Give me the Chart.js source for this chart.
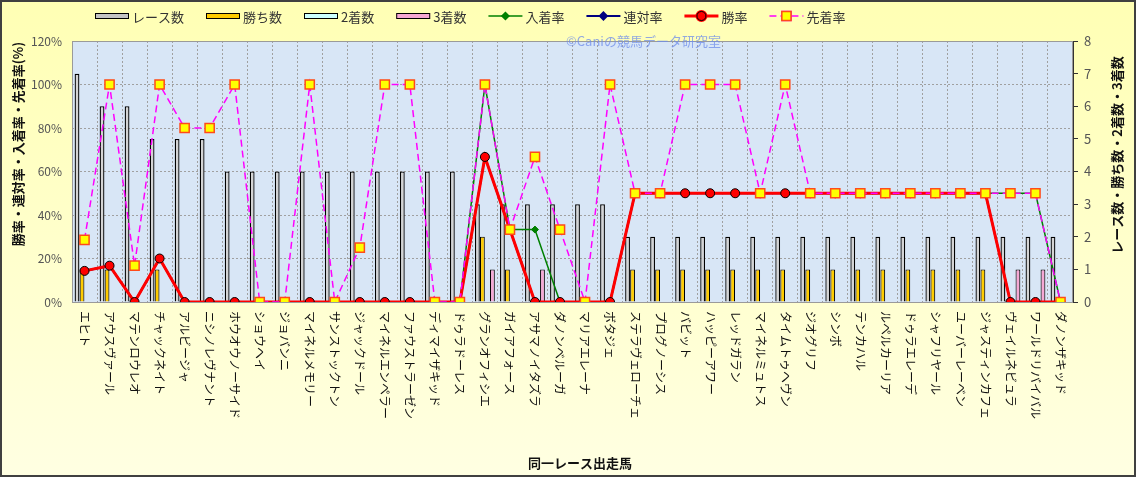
<!DOCTYPE html>
<html lang="ja">
<head>
    <meta charset="UTF-8">
    <title>同一レース出走馬</title>
    <style>
        html, body { margin: 0; padding: 0; background: #fff; }
        #wrap { width: 1136px; height: 477px; }
    </style>
</head>
<body>
    <div id="wrap"><canvas id="myChart" width="1136" height="477"></canvas></div>

    <script src="https://cdn.jsdelivr.net/npm/chart.js"></script>
    <script>
        // 出走馬
        const horses = ['エヒト', 'アウスヴァール', 'マテンロウレオ', 'チャックネイト', 'アルビージャ',
            'ニシノレヴナント', 'ホウオウノーサイド', 'ショウヘイ', 'ジョバンニ', 'マイネルメモリー',
            'サンストックトン', 'ジャックドール', 'マイネルエンペラー', 'ファウストラーゼン', 'ディマイザキッド',
            'ドゥラドーレス', 'グランオフィシエ', 'ガイアフォース', 'アサマノイタズラ', 'ダノンベルーガ',
            'マリアエレーナ', 'ボタジェ', 'ステラヴェローチェ', 'プログノーシス', 'バビット',
            'ハッピーアワー', 'レッドガラン', 'マイネルミュトス', 'タイムトゥヘヴン', 'ジオグリフ',
            'シンボ', 'テンカハル', 'ルペルカーリア', 'ドゥラエレーデ', 'シャフリヤール',
            'ユーバーレーベン', 'ジャスティンカフェ', 'ヴェイルネビュラ', 'ワールドリバイバル', 'ダノンザキッド'];

        // 回数 (右軸)
        const races   = [7, 6, 6, 5, 5, 5, 4, 4, 4, 4, 4, 4, 4, 4, 4, 4, 3, 3, 3, 3, 3, 3,
                         2, 2, 2, 2, 2, 2, 2, 2, 2, 2, 2, 2, 2, 2, 2, 2, 2, 2];
        const wins    = [1, 1, 0, 1, 0, 0, 0, 0, 0, 0, 0, 0, 0, 0, 0, 0, 2, 1, 0, 0, 0, 0,
                         1, 1, 1, 1, 1, 1, 1, 1, 1, 1, 1, 1, 1, 1, 1, 0, 0, 0];
        const seconds = [0, 0, 0, 0, 0, 0, 0, 0, 0, 0, 0, 0, 0, 0, 0, 0, 0, 0, 0, 0, 0, 0,
                         0, 0, 0, 0, 0, 0, 0, 0, 0, 0, 0, 0, 0, 0, 0, 0, 0, 0];
        const thirds  = [0, 0, 0, 0, 0, 0, 0, 0, 0, 0, 0, 0, 0, 0, 0, 0, 1, 0, 1, 0, 0, 0,
                         0, 0, 0, 0, 0, 0, 0, 0, 0, 0, 0, 0, 0, 0, 0, 1, 1, 0];

        // 率 (%・左軸)
        const placeRate    = [14.3, 16.7, 0, 20, 0, 0, 0, 0, 0, 0, 0, 0, 0, 0, 0, 0, 100, 33.3, 33.3, 0, 0, 0,
                              50, 50, 50, 50, 50, 50, 50, 50, 50, 50, 50, 50, 50, 50, 50, 50, 50, 0];
        const quinellaRate = [14.3, 16.7, 0, 20, 0, 0, 0, 0, 0, 0, 0, 0, 0, 0, 0, 0, 66.7, 33.3, 0, 0, 0, 0,
                              50, 50, 50, 50, 50, 50, 50, 50, 50, 50, 50, 50, 50, 50, 50, 0, 0, 0];
        const winRate      = [14.3, 16.7, 0, 20, 0, 0, 0, 0, 0, 0, 0, 0, 0, 0, 0, 0, 66.7, 33.3, 0, 0, 0, 0,
                              50, 50, 50, 50, 50, 50, 50, 50, 50, 50, 50, 50, 50, 50, 50, 0, 0, 0];
        const aheadRate    = [28.6, 100, 16.7, 100, 80, 80, 100, 0, 0, 100, 0, 25, 100, 100, 0, 0, 100, 33.3, 66.7, 33.3, 0, 100,
                              50, 50, 100, 100, 100, 50, 100, 50, 50, 50, 50, 50, 50, 50, 50, 50, 50, 0];

        const pctTicks = [0, 20, 40, 60, 80, 100, 120];
        const cntTicks = [0, 1, 2, 3, 4, 5, 6, 7, 8];

        const FONT = '"Noto Sans CJK JP", "Noto Sans", sans-serif';
        Chart.defaults.font.family = FONT;

        // 背景・凡例・軸タイトル・横軸ラベルを描くプラグイン
        const decor = {
            id: 'decor',
            beforeDraw(chart) {
                const c = chart.ctx, a = chart.chartArea;
                const g = c.createLinearGradient(0, 0, 0, chart.height);
                g.addColorStop(0, '#ffffb4');
                g.addColorStop(1, '#ffffe2');
                c.save();
                c.fillStyle = g;
                c.fillRect(0, 0, chart.width, chart.height);
                c.fillStyle = '#d8e6f6';
                c.fillRect(a.left, a.top, a.right - a.left, a.bottom - a.top);
                c.restore();
            },
            afterDatasetsDraw(chart) {
                const c = chart.ctx, a = chart.chartArea;
                c.save();
                c.strokeStyle = '#9a9a9a';
                c.lineWidth = 1;
                c.strokeRect(a.left + 0.5, a.top + 0.5, a.right - a.left - 1, a.bottom - a.top);
                c.restore();
            },
            afterDraw(chart) {
                const c = chart.ctx, a = chart.chartArea;
                const xs = chart.scales.x;
                c.save();

                // 横軸ラベル (縦書き風に回転)
                c.fillStyle = '#111';
                c.font = '12px ' + FONT;
                c.textAlign = 'left';
                c.textBaseline = 'middle';
                horses.forEach((h, i) => {
                    c.save();
                    c.translate(xs.getPixelForValue(i), a.bottom + 9);
                    c.rotate(Math.PI / 2);
                    c.fillText(h, 0, 0);
                    c.restore();
                });

                // 軸タイトル
                c.font = 'bold 13px ' + FONT;
                c.textAlign = 'center';
                c.fillText('同一レース出走馬', 580, 463);
                c.save();
                c.translate(18, 144);
                c.rotate(-Math.PI / 2);
                c.fillText('勝率・連対率・入着率・先着率(%)', 0, 0);
                c.restore();
                c.save();
                c.translate(1117, 155);
                c.rotate(-Math.PI / 2);
                c.fillText('レース数・勝ち数・2着数・3着数', 0, 0);
                c.restore();

                // 透かし文字
                c.font = '13px ' + FONT;
                c.fillStyle = 'rgba(110,140,235,0.75)';
                c.textAlign = 'left';
                c.fillText('©Caniの競馬データ研究室', 566, 41);

                // 凡例 (データセットの並び順)
                c.font = '13px ' + FONT;
                c.textBaseline = 'middle';
                let x = 95;
                const y = 16;
                chart.data.datasets.forEach(ds => {
                    if (ds.type === 'bar') {
                        c.fillStyle = ds.legendFill || ds.backgroundColor;
                        c.strokeStyle = '#000';
                        c.lineWidth = 1;
                        c.fillRect(x, y - 3, 34, 6);
                        c.strokeRect(x + 0.5, y - 2.5, 33, 5);
                    } else {
                        c.strokeStyle = ds.borderColor;
                        c.lineWidth = ds.borderWidth;
                        c.setLineDash(ds.borderDash || []);
                        c.beginPath();
                        c.moveTo(x, y);
                        c.lineTo(x + 34, y);
                        c.stroke();
                        c.setLineDash([]);
                        Chart.helpers.drawPoint(c, {
                            pointStyle: ds.pointStyle,
                            radius: ds.pointRadius,
                            borderWidth: ds.pointBorderWidth
                        }, x + 17, y);
                        c.fillStyle = ds.pointBackgroundColor;
                        c.strokeStyle = ds.pointBorderColor;
                        c.lineWidth = ds.pointBorderWidth;
                        c.fill();
                        c.stroke();
                    }
                    c.fillStyle = '#333';
                    c.fillText(ds.label, x + 37, y + 1);
                    x += 37 + c.measureText(ds.label).width + 22;
                });
                c.restore();

                // 外枠
                c.save();
                c.strokeStyle = '#404040';
                c.lineWidth = 2;
                c.strokeRect(1, 1, chart.width - 2, chart.height - 2);
                c.restore();
            }
        };

        const ctx = document.getElementById('myChart').getContext('2d');
        const myChart = new Chart(ctx, {
            data: {
                labels: horses,
                datasets: [
                    // 棒は order の小さい順に左から並ぶ
                    { type: 'bar', label: 'レース数', data: races, yAxisID: 'y1', order: 5,
                      backgroundColor: '#d4d4d4', legendFill: '#c4c4c4', borderColor: '#000', borderWidth: 1.3 },
                    { type: 'bar', label: '勝ち数', data: wins, yAxisID: 'y1', order: 6,
                      backgroundColor: '#ffcc00', borderColor: '#000', borderWidth: 1.1 },
                    { type: 'bar', label: '2着数', data: seconds, yAxisID: 'y1', order: 7,
                      backgroundColor: '#ccffff', borderColor: '#000', borderWidth: 1.1 },
                    { type: 'bar', label: '3着数', data: thirds, yAxisID: 'y1', order: 8,
                      backgroundColor: '#f6a8d4', borderColor: '#000', borderWidth: 1.1 },
                    // 折れ線は order が小さいほど上に描かれる
                    { type: 'line', label: '入着率', data: placeRate, yAxisID: 'y', order: 4,
                      borderColor: '#008000', borderWidth: 1.5, tension: 0,
                      pointStyle: 'rectRot', pointRadius: 3.5, pointBorderWidth: 1,
                      pointBackgroundColor: '#008000', pointBorderColor: '#008000' },
                    { type: 'line', label: '連対率', data: quinellaRate, yAxisID: 'y', order: 3,
                      borderColor: '#000080', borderWidth: 2, tension: 0,
                      pointStyle: 'rectRot', pointRadius: 3.5, pointBorderWidth: 1,
                      pointBackgroundColor: '#000080', pointBorderColor: '#000080' },
                    { type: 'line', label: '勝率', data: winRate, yAxisID: 'y', order: 2,
                      borderColor: '#ff0000', borderWidth: 3, tension: 0,
                      pointStyle: 'circle', pointRadius: 4.5, pointBorderWidth: 1,
                      pointBackgroundColor: '#ff0000', pointBorderColor: '#000' },
                    { type: 'line', label: '先着率', data: aheadRate, yAxisID: 'y', order: 1,
                      borderColor: '#ff00ff', borderWidth: 1.5, borderDash: [7, 4], tension: 0,
                      pointStyle: 'rect', pointRadius: 6.5, pointBorderWidth: 1.5,
                      pointBackgroundColor: '#ffff00', pointBorderColor: '#ff4a1a' }
                ]
            },
            options: {
                responsive: false,
                animation: false,
                devicePixelRatio: 1,
                layout: { padding: { top: 41, left: 0, right: 0, bottom: 0 }, autoPadding: false },
                datasets: { bar: { categoryPercentage: 0.8, barPercentage: 0.96 } },
                plugins: { legend: { display: false }, tooltip: { enabled: false } },
                scales: {
                    x: {
                        offset: true,
                        grid: { offset: true, color: '#a0a0a0', lineWidth: 1, drawTicks: false },
                        border: { display: false, dash: [2, 2] },
                        ticks: { display: false },
                        afterFit(s) { s.height = 175; }
                    },
                    y: {
                        position: 'left',
                        min: 0, max: 120,
                        afterBuildTicks(s) { s.ticks = pctTicks.map(v => ({ value: v })); },
                        grid: { color: '#a0a0a0', lineWidth: 1, drawTicks: false },
                        border: { display: false, dash: [2, 2] },
                        ticks: { color: '#555', font: { size: 12 }, padding: 10,
                                 callback: v => v + '%' },
                        afterFit(s) { s.width = 72; }
                    },
                    y1: {
                        position: 'right',
                        min: 0, max: 8,
                        afterBuildTicks(s) { s.ticks = cntTicks.map(v => ({ value: v })); },
                        grid: { drawOnChartArea: false, color: '#333', tickLength: 5 },
                        border: { display: true, color: '#333', width: 1 },
                        ticks: { color: '#555', font: { size: 13 }, padding: 6 },
                        afterFit(s) { s.width = 63; }
                    }
                }
            },
            plugins: [decor]
        });
    </script>
</body>
</html>
